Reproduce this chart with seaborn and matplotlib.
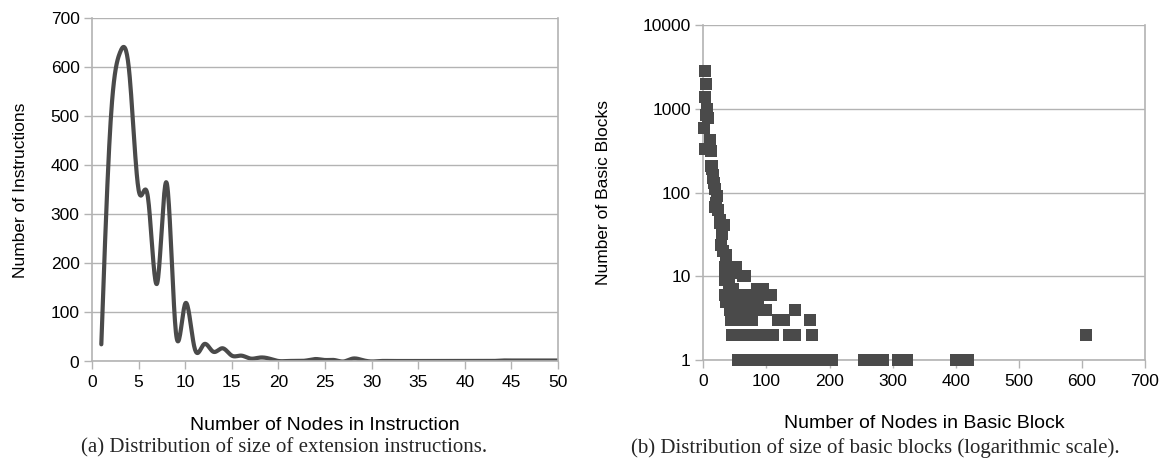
import numpy as np
import pandas as pd
import matplotlib
matplotlib.use("Agg")
import matplotlib.pyplot as plt
import matplotlib.ticker as mticker
import seaborn as sns

# ---------------- data ----------------
inst_nodes = list(range(1, 51))
inst_counts = [35, 490, 630, 590, 350, 335, 160, 365, 60, 118,
               28, 35, 20, 27, 12, 12, 6, 8, 6, 1,
               1, 1, 2, 5, 3, 3, 0, 6, 3, 0,
               1, 1, 1, 1, 1, 1, 1, 1, 1, 1,
               1, 1, 1, 2, 2, 2, 2, 2, 2, 2]

bb_nodes = [2, 4, 3, 6, 8, 5, 1, 10, 2, 12, 11, 13, 14, 15, 17, 16, 19, 21, 20, 18,
            24, 26, 32, 27, 29, 28, 31, 36, 34, 52, 48,
            34, 40, 63, 66, 40, 47, 85, 95, 34,
            35, 41, 60, 70, 80, 90, 100, 108,
            36, 42, 48, 56, 62, 68, 74, 80, 86,
            42, 48, 54, 70, 76, 82, 88, 94, 100, 145,
            44, 50, 56, 62, 68, 74, 77, 118, 124, 128, 169,
            45, 50, 56, 62, 68, 74, 80, 86, 92, 98, 104, 110, 136, 141, 146, 172, 607,
            55, 60, 66, 72, 78, 84, 90, 96, 102, 108, 114, 120, 126, 132, 138, 144,
            150, 156, 162, 168, 174, 180, 186, 192, 198, 204,
            255, 262, 270, 278, 285, 309, 316, 323, 400, 407, 414, 420]
bb_counts = [2850, 2000, 1370, 1000, 780, 850, 590, 425, 330, 310, 380, 210, 190, 160, 130, 150, 110, 90, 75, 68,
             62, 47, 41, 43, 32, 24, 20, 18, 13, 13, 11,
             10, 10, 10, 10, 8, 7, 7, 7, 9,
             6, 6, 6, 6, 6, 6, 6, 6,
             5, 5, 5, 5, 5, 5, 5, 5, 5,
             4, 4, 4, 4, 4, 4, 4, 4, 4, 4,
             3, 3, 3, 3, 3, 3, 3, 3, 3, 3, 3,
             2, 2, 2, 2, 2, 2, 2, 2, 2, 2, 2, 2, 2, 2, 2, 2, 2,
             1, 1, 1, 1, 1, 1, 1, 1, 1, 1, 1, 1, 1, 1, 1, 1,
             1, 1, 1, 1, 1, 1, 1, 1, 1, 1,
             1, 1, 1, 1, 1, 1, 1, 1, 1, 1, 1, 1]

left_xticks = list(range(0, 51, 5))
left_yticks = list(range(0, 701, 100))
right_xticks = list(range(0, 701, 100))
right_yticks = [1, 10, 100, 1000, 10000]


# natural cubic spline used to render the smoothed line (as in the original chart)
def natural_spline(x, y, n_per=20):
    x = np.asarray(x, float)
    y = np.asarray(y, float)
    n = len(x)
    h = np.diff(x)
    A = np.zeros((n, n))
    r = np.zeros(n)
    A[0, 0] = 1
    A[-1, -1] = 1
    for i in range(1, n - 1):
        A[i, i - 1] = h[i - 1]
        A[i, i] = 2 * (h[i - 1] + h[i])
        A[i, i + 1] = h[i]
        r[i] = 3 * ((y[i + 1] - y[i]) / h[i] - (y[i] - y[i - 1]) / h[i - 1])
    c = np.linalg.solve(A, r)
    xs, ys = [], []
    for i in range(n - 1):
        b = (y[i + 1] - y[i]) / h[i] - h[i] * (2 * c[i] + c[i + 1]) / 3
        d = (c[i + 1] - c[i]) / (3 * h[i])
        t = np.linspace(0, h[i], n_per, endpoint=(i == n - 2))
        xs.append(x[i] + t)
        ys.append(y[i] + b * t + c[i] * t ** 2 + d * t ** 3)
    return np.concatenate(xs), np.concatenate(ys)


sx, sy = natural_spline(inst_nodes, inst_counts)
df_line = pd.DataFrame({"nodes": sx, "count": sy})
df_bb = pd.DataFrame({"nodes": bb_nodes, "count": bb_counts})

sns.set_theme(style="white")
plt.rcParams["font.family"] = ["Liberation Sans", "DejaVu Sans"]

dark = "#4a4a4a"
grid_c = "#b3b3b3"
tick_fs = 12.5
xlab_fs = 14
ylab_fs = 12.5
cap_fs = 15

fig = plt.figure(figsize=(11.7, 4.61), dpi=100)
ax1 = fig.add_axes([92 / 1170, 1 - 361.5 / 461, (558 - 92) / 1170, (361.5 - 18.3) / 461])
ax2 = fig.add_axes([703.3 / 1170, 1 - 360.2 / 461, (1145 - 703.3) / 1170, (360.2 - 25) / 461])

# ---- left chart ----
sns.lineplot(data=df_line, x="nodes", y="count", ax=ax1, color=dark, linewidth=3.0,
             sort=False, estimator=None)
ax1.set_xlim(0, 50)
ax1.set_ylim(0, 700)
ax1.set_xticks(left_xticks)
ax1.set_yticks(left_yticks)
ax1.set_xlabel("Number of Nodes in Instruction", fontsize=xlab_fs, labelpad=19, color="black")
ax1.set_ylabel("Number of Instructions", fontsize=ylab_fs, labelpad=16, color="black")

# ---- right chart ----
sns.scatterplot(data=df_bb, x="nodes", y="count", ax=ax2, marker="s", s=75,
                color=dark, linewidth=0, edgecolor="none", clip_on=False, zorder=3)
ax2.set_yscale("log")
ax2.set_xlim(0, 700)
ax2.set_ylim(1, 10000)
ax2.set_xticks(right_xticks)
ax2.set_yticks(right_yticks)
ax2.yaxis.set_major_formatter(mticker.FuncFormatter(lambda v, p: f"{int(round(v))}"))
ax2.yaxis.set_minor_locator(mticker.NullLocator())
ax2.set_xlabel("Number of Nodes in Basic Block", fontsize=xlab_fs, labelpad=19, color="black")
ax2.set_ylabel("Number of Basic Blocks", fontsize=ylab_fs, labelpad=23, color="black")

for ax in (ax1, ax2):
    ax.set_facecolor("white")
    ax.grid(axis="y", color=grid_c, linewidth=1.0)
    ax.grid(axis="x", visible=False)
    ax.set_axisbelow(True)
    for side in ("left", "right", "bottom"):
        ax.spines[side].set_visible(True)
        ax.spines[side].set_color(grid_c)
        ax.spines[side].set_linewidth(1.2)
    ax.spines["top"].set_visible(False)
    ax.tick_params(axis="both", which="major", direction="out", length=6, width=1.0,
                   color=grid_c, labelsize=tick_fs, labelcolor="black", pad=3,
                   bottom=True, left=True)
    ax.tick_params(axis="x", pad=4)

fig.text(284 / 1170, 1 - 448 / 461, "(a) Distribution of size of extension instructions.",
         ha="center", va="center", fontsize=cap_fs, family=["Liberation Serif", "DejaVu Serif"])
fig.text(875 / 1170, 1 - 448 / 461, "(b) Distribution of size of basic blocks (logarithmic scale).",
         ha="center", va="center", fontsize=cap_fs, family=["Liberation Serif", "DejaVu Serif"])

fig.savefig("out.png", dpi=100, facecolor="white")
